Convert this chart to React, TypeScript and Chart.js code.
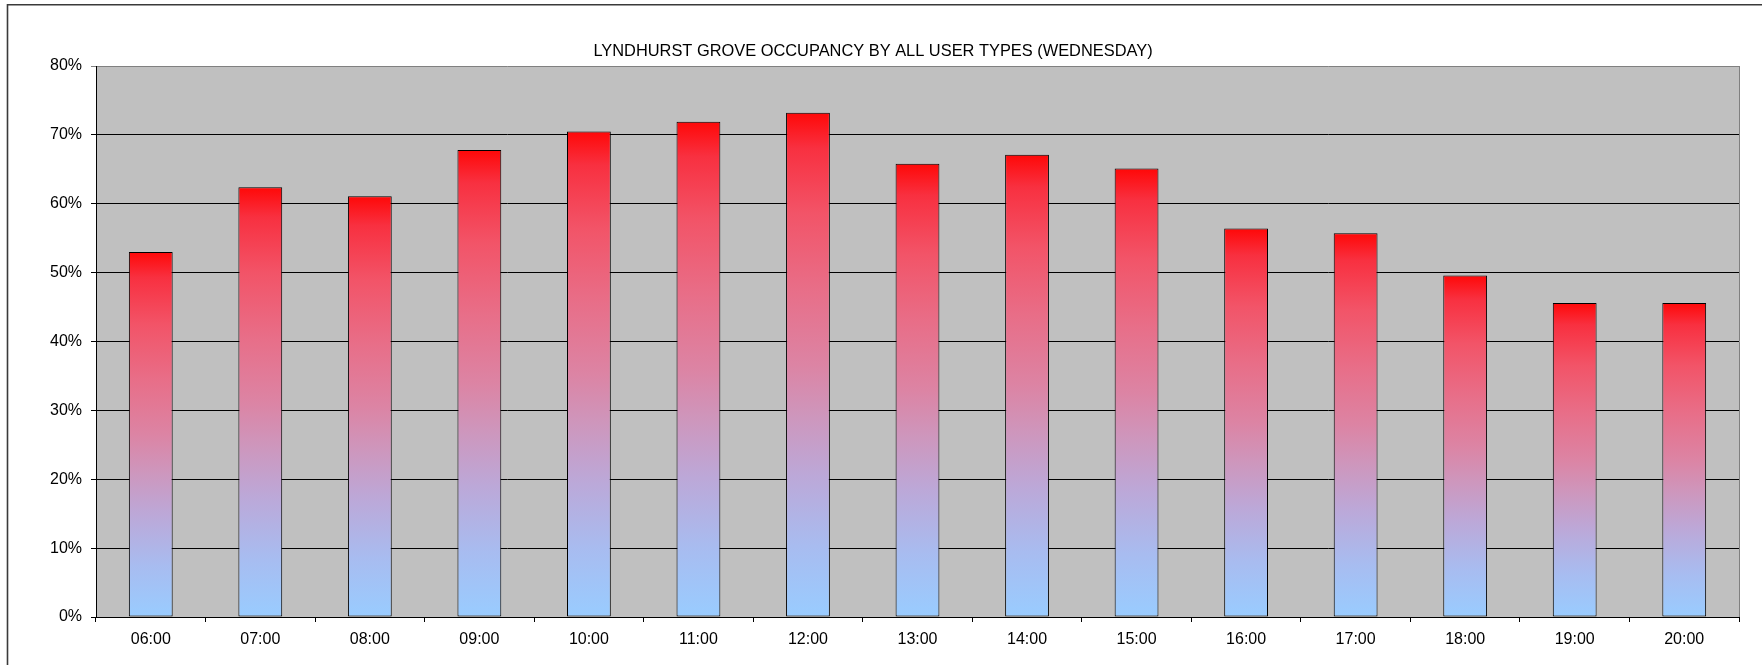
import React, { useEffect, useRef } from "react";
import { Chart, registerables } from "chart.js";

Chart.register(...registerables);

const TITLE = "LYNDHURST GROVE OCCUPANCY BY ALL USER TYPES (WEDNESDAY)";
const categories = [
  "06:00", "07:00", "08:00", "09:00", "10:00", "11:00", "12:00", "13:00",
  "14:00", "15:00", "16:00", "17:00", "18:00", "19:00", "20:00",
];
const occupancy = [
  53.0, 62.4, 61.1, 67.8, 70.5, 71.9, 73.2, 65.8, 67.1, 65.1, 56.4, 55.7, 49.6, 45.6, 45.6,
];
const yTicks = [0, 10, 20, 30, 40, 50, 60, 70, 80];

const FONT = '"Liberation Sans", Arial, sans-serif';

const gradientStops: [number, string][] = [
  [0, "#FF0808"],
  [0.07, "#F83040"],
  [0.2, "#F25468"],
  [0.35, "#E86E88"],
  [0.5, "#DC84A4"],
  [0.6, "#CE96BC"],
  [0.72, "#BCA8D8"],
  [0.86, "#A8BCF0"],
  [1, "#99CCFF"],
];

const framePlugin = {
  id: "frame",
  beforeDraw(chart: any) {
    const { ctx, chartArea } = chart;
    ctx.save();
    ctx.fillStyle = "#FFFFFF";
    ctx.fillRect(0, 0, chart.width, chart.height);
    ctx.fillStyle = "#C0C0C0";
    ctx.fillRect(chartArea.left, chartArea.top, chartArea.right - chartArea.left, chartArea.bottom - chartArea.top);
    ctx.restore();
  },
  afterDraw(chart: any) {
    const { ctx, chartArea } = chart;
    ctx.save();
    ctx.strokeStyle = "#808080";
    ctx.lineWidth = 1;
    ctx.beginPath();
    ctx.moveTo(Math.round(chartArea.right) + 0.5, chartArea.top);
    ctx.lineTo(Math.round(chartArea.right) + 0.5, chartArea.bottom);
    ctx.stroke();
    ctx.strokeStyle = "#3A3A3A";
    ctx.lineWidth = 1.6;
    ctx.beginPath();
    ctx.moveTo(7.5, chart.height + 2);
    ctx.lineTo(7.5, 4.8);
    ctx.lineTo(chart.width + 2, 4.8);
    ctx.stroke();
    ctx.fillStyle = "#000000";
    ctx.font = `16.4px ${FONT}`;
    ctx.textAlign = "center";
    ctx.textBaseline = "middle";
    ctx.fillText(TITLE, 873, 51);
    ctx.restore();
  },
};

export default function App() {
  const ref = useRef<HTMLCanvasElement | null>(null);

  useEffect(() => {
    if (!ref.current) return;
    const chart = new Chart(ref.current, {
      type: "bar",
      data: {
        labels: categories,
        datasets: [
          {
            data: occupancy,
            backgroundColor: (c: any) => {
              const ch = c.chart;
              const y = ch.scales && ch.scales.y;
              if (!y || c.type !== "data") return "#FF0000";
              const top = y.getPixelForValue(c.raw);
              const base = y.getPixelForValue(0);
              if (!isFinite(top) || !isFinite(base) || top === base) return "#FF0000";
              const g = ch.ctx.createLinearGradient(0, top, 0, base);
              gradientStops.forEach(([s, col]) => g.addColorStop(s, col));
              return g;
            },
            borderColor: "#000000",
            borderWidth: 1,
            borderSkipped: false,
            barPercentage: 0.4,
            categoryPercentage: 1,
          },
        ],
      },
      options: {
        responsive: false,
        animation: false,
        devicePixelRatio: 1,
        layout: { padding: { top: 66, right: 23, left: 0, bottom: 0 } },
        plugins: {
          legend: { display: false },
          title: { display: false },
          tooltip: { enabled: false },
        },
        scales: {
          x: {
            offset: true,
            grid: {
              offset: true,
              drawOnChartArea: false,
              drawTicks: true,
              tickLength: 5,
              color: "#000000",
            },
            border: { display: true, color: "#000000", width: 1 },
            ticks: {
              color: "#000000",
              font: { family: FONT, size: 16 },
              padding: 8,
              maxRotation: 0,
              autoSkip: false,
            },
            afterFit(scale: any) {
              scale.height = 48;
            },
          },
          y: {
            min: 0,
            max: 80,
            afterBuildTicks(scale: any) {
              scale.ticks = yTicks.map((v) => ({ value: v }));
            },
            grid: {
              color: (c: any) => (c.tick && c.tick.value === 80 ? "#808080" : "#000000"),
              lineWidth: 1,
              drawTicks: true,
              tickLength: 5,
            },
            border: { display: true, color: "#000000", width: 1 },
            ticks: {
              color: "#000000",
              font: { family: FONT, size: 16 },
              padding: 9,
              callback: (v: any) => `${v}%`,
            },
            afterFit(scale: any) {
              scale.width = 96;
            },
          },
        },
      },
      plugins: [framePlugin],
    });
    return () => chart.destroy();
  }, []);

  return (
    <div style={{ position: "absolute", left: 0, top: 0, width: 1762, height: 665 }}>
      <canvas ref={ref} width={1762} height={665} style={{ display: "block" }} />
    </div>
  );
}
